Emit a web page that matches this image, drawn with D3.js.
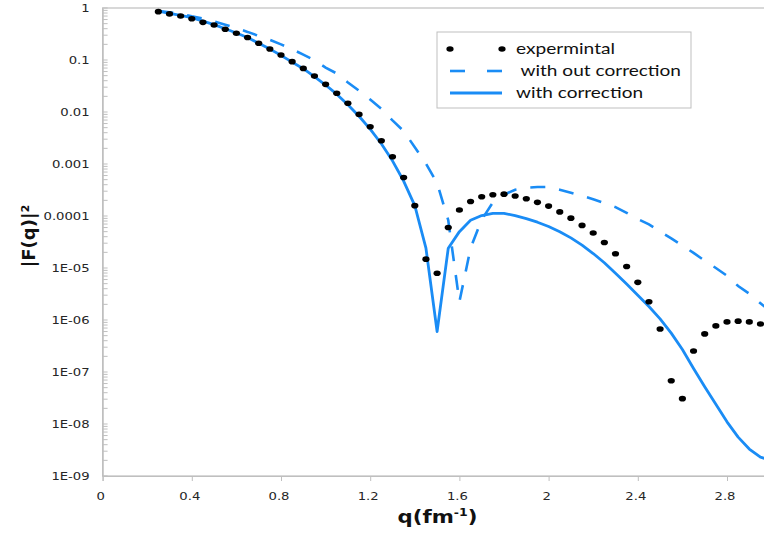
<!DOCTYPE html>
<html><head><meta charset="utf-8">
<script src="https://cdn.jsdelivr.net/npm/d3@7"></script>
<style>body{margin:0;background:#fff}svg{display:block}</style>
</head><body><svg id="c" width="764" height="533"></svg>
<script>
const qExp = [0.25,0.3,0.35,0.4,0.45,0.5,0.55,0.6,0.65,0.7,0.75,0.8,0.85,0.9,0.95,1.0,1.05,1.1,1.15,1.2,1.25,1.3,1.35,1.4,1.45,1.5,1.55,1.6,1.65,1.7,1.75,1.8,1.85,1.9,1.95,2.0,2.05,2.1,2.15,2.2,2.25,2.3,2.35,2.4,2.45,2.5,2.55,2.6,2.65,2.7,2.75,2.8,2.85,2.9,2.95];
const expValues = [0.85,0.77,0.70,0.62,0.53,0.47,0.39,0.326,0.27,0.21,0.163,0.125,0.093,0.069,0.049,0.034,0.023,0.0147,0.0090,0.0052,0.0028,0.00138,0.00055,0.000158,1.48e-5,7.9e-6,6.0e-5,1.30e-4,1.9e-4,2.35e-4,2.57e-4,2.63e-4,2.43e-4,2.15e-4,1.83e-4,1.55e-4,1.20e-4,9.1e-5,6.6e-5,4.7e-5,3.1e-5,1.88e-5,1.07e-5,5.3e-6,2.25e-6,6.7e-7,6.8e-8,3.07e-8,2.54e-7,5.4e-7,7.7e-7,9.2e-7,9.5e-7,9.2e-7,8.4e-7];
const qModel = [0.25,0.3,0.35,0.4,0.45,0.5,0.55,0.6,0.65,0.7,0.75,0.8,0.85,0.9,0.95,1.0,1.05,1.1,1.15,1.2,1.25,1.3,1.35,1.4,1.45,1.5,1.55,1.6,1.65,1.7,1.75,1.8,1.85,1.9,1.95,2.0,2.05,2.1,2.15,2.2,2.25,2.3,2.35,2.4,2.45,2.5,2.55,2.6,2.65,2.7,2.75,2.8,2.85,2.9,2.95,3.0];
const withoutCorrection = [0.875,0.83,0.78,0.69,0.63,0.55,0.475,0.41,0.347,0.29,0.244,0.20,0.161,0.127,0.0986,0.0715,0.055,0.037,0.0257,0.0174,0.0115,0.0069,0.0043,0.0021,0.00102,0.00043,8.3e-5,2.24e-6,2.4e-5,8.5e-5,1.82e-4,2.57e-4,3.2e-4,3.5e-4,3.6e-4,3.6e-4,3.2e-4,2.8e-4,2.45e-4,2.1e-4,1.78e-4,1.48e-4,1.15e-4,8.7e-5,6.9e-5,5.0e-5,3.7e-5,2.7e-5,1.95e-5,1.38e-5,1.0e-5,7.1e-6,4.5e-6,3.2e-6,2.1e-6,1.4e-6];
const withCorrection = [0.87,0.79,0.72,0.65,0.56,0.48,0.40,0.33,0.27,0.21,0.162,0.123,0.091,0.068,0.048,0.033,0.022,0.0138,0.0083,0.0047,0.00245,0.00115,0.00047,0.000158,2.4e-5,6.0e-7,2.4e-5,5.0e-5,8.3e-5,1.02e-4,1.12e-4,1.12e-4,1.02e-4,8.9e-5,7.6e-5,6.3e-5,5.0e-5,3.8e-5,2.75e-5,1.9e-5,1.26e-5,7.9e-6,4.9e-6,3.0e-6,1.82e-6,1.05e-6,5.6e-7,2.7e-7,1.17e-7,5.2e-8,2.4e-8,1.10e-8,5.6e-9,3.3e-9,2.3e-9,2.0e-9];
const xTicks = [0,0.4,0.8,1.2,1.6,2,2.4,2.8];
const xTickLabels = ["0","0.4","0.8","1.2","1.6","2","2.4","2.8"];
const yTicks = [1,0.1,0.01,0.001,0.0001,1e-5,1e-6,1e-7,1e-8,1e-9];
const yTickLabels = ["1","0.1","0.01","0.001","0.0001","1E-05","1E-06","1E-07","1E-08","1E-09"];
const seriesNames = ["expermintal"," with out correction","with correction"];
const xTitle = "q(fm";
const xTitleSup = "-1";
const yTitle = "|F(q)|²";

const blue = "#1a8cf5";
const axisGray = "#bfbfbf";
const svg = d3.select("#c");
const x = d3.scaleLinear().domain([0,3]).range([102.6,771.6]);
const y = d3.scaleLog().domain([1e-9,1]).range([476,8]);
const SX = 1.2;
function stretch(sel, sx){
  sel.each(function(){
    const t = d3.select(this);
    const tx = +t.attr("x") || 0;
    t.attr("transform", `translate(${tx},0) scale(${sx},1) translate(${-tx},0)`);
  });
}

// plot frame
svg.append("rect").attr("x",x(0)).attr("y",y(1)).attr("width",x(3)-x(0)).attr("height",y(1e-9)-y(1))
  .attr("fill","none").attr("stroke",axisGray).attr("stroke-width",1.2);

// y axis
const gy = svg.append("g").attr("transform",`translate(${x(0)},0)`)
  .call(d3.axisLeft(y).tickValues(yTicks).tickSize(0).tickPadding(13)
    .tickFormat((d,i)=>yTickLabels[i]));
gy.select(".domain").attr("stroke",axisGray).attr("stroke-width",1.2);
gy.selectAll("text").attr("font-family","DejaVu Sans").attr("font-size",11).attr("fill","#262626");
stretch(gy.selectAll("text"), SX);
// minor / major tick marks inside
const minor = [];
yTicks.forEach(d=>{ if(d>1e-9){ [1,2,3,4,5,6,7,8,9].forEach(k=>minor.push(d/10*k)); } });
minor.push(1);
svg.append("g").selectAll("line").data(minor).join("line")
  .attr("x1",x(0)).attr("x2",x(0)+5).attr("y1",d=>y(d)).attr("y2",d=>y(d))
  .attr("stroke",axisGray).attr("stroke-width",1);

// x axis
const gx = svg.append("g").attr("transform",`translate(0,${y(1e-9)})`)
  .call(d3.axisBottom(x).tickValues(xTicks).tickSize(5).tickPadding(11)
    .tickFormat((d,i)=>xTickLabels[i]));
gx.select(".domain").attr("stroke",axisGray).attr("stroke-width",1.2);
gx.selectAll(".tick line").attr("stroke",axisGray);
gx.selectAll("text").attr("x",-2.5).attr("font-family","DejaVu Sans").attr("font-size",11).attr("fill","#262626");
stretch(gx.selectAll("text"), SX);

// titles
const xt = svg.append("text").attr("x",437.5).attr("y",523).attr("text-anchor","middle")
  .attr("font-family","DejaVu Sans").attr("font-weight","bold").attr("font-size",17).attr("fill","#111");
xt.append("tspan").text(xTitle);
xt.append("tspan").attr("font-size",10).attr("dy",-7).text(xTitleSup);
xt.append("tspan").attr("dy",7).text(")");
stretch(xt, 1.25);

svg.append("text").attr("transform","translate(35,236) rotate(-90)").attr("text-anchor","middle")
  .attr("font-family","DejaVu Sans").attr("font-weight","bold").attr("font-size",18).attr("fill","#111")
  .text(yTitle);

// lines
const line = d3.line().x(d=>x(d[0])).y(d=>y(d[1]));
svg.append("path").datum(qModel.map((q,i)=>[q,withoutCorrection[i]]))
  .attr("d",line).attr("fill","none").attr("stroke",blue).attr("stroke-width",2.6)
  .attr("stroke-dasharray","15,14");
svg.append("path").datum(qModel.map((q,i)=>[q,withCorrection[i]]))
  .attr("d",line).attr("fill","none").attr("stroke",blue).attr("stroke-width",2.8)
  .attr("stroke-linejoin","round");
svg.append("g").selectAll("ellipse").data(qExp.map((q,i)=>[q,expValues[i]])).join("ellipse")
  .attr("cx",d=>x(d[0])).attr("cy",d=>y(d[1])).attr("rx",3.6).attr("ry",2.8).attr("fill","#000");

// legend
const lg = svg.append("g");
lg.append("rect").attr("x",437).attr("y",32).attr("width",254).attr("height",76)
  .attr("fill","#fff").attr("stroke",axisGray).attr("stroke-width",1);
const rows = [49,71,93];
[450,502].forEach(cx=>lg.append("ellipse").attr("cx",cx).attr("cy",rows[0]).attr("rx",3.6).attr("ry",2.8).attr("fill","#000"));
[[450,465],[487,502]].forEach(s=>lg.append("line").attr("x1",s[0]).attr("x2",s[1]).attr("y1",rows[1]).attr("y2",rows[1]).attr("stroke",blue).attr("stroke-width",2.6));
lg.append("line").attr("x1",450).attr("x2",502).attr("y1",rows[2]).attr("y2",rows[2]).attr("stroke",blue).attr("stroke-width",2.8);
const widths = [99,165,127];
seriesNames.forEach((n,i)=>{
  lg.append("text").attr("x",516).attr("y",rows[i]).attr("dy","0.35em")
    .attr("font-family","Lato").attr("font-size",15).attr("fill","#111")
    .attr("textLength",widths[i]).attr("lengthAdjust","spacingAndGlyphs")
    .attr("xml:space","preserve").style("white-space","pre").text(n);
});
</script></body></html>
